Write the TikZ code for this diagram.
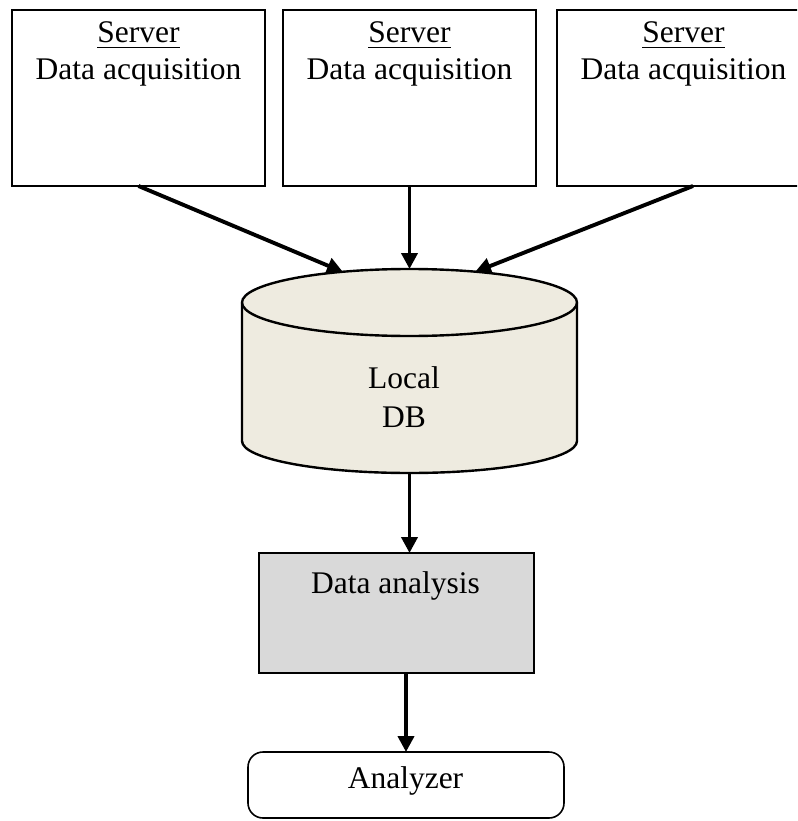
\documentclass[tikz,border=0pt]{standalone}
\usepackage{fontspec}
\setmainfont{Liberation Serif}
\usetikzlibrary{arrows.meta,calc}
\definecolor{dbfill}{RGB}{238,235,224}
\definecolor{anafill}{RGB}{217,217,217}
% underlined word with a rule placed a little below the baseline
\newcommand\ulword[1]{\setbox0=\hbox{#1}\rlap{\rule[-5.5pt]{\wd0}{1.4pt}}\box0}
\begin{document}
\begin{tikzpicture}[x=1pt,y=1pt,
  every node/.style={font=\fontsize{31.5}{37}\selectfont, inner sep=0pt, outer sep=0pt},
  srvbox/.style={draw, line width=1.7pt, minimum width=253pt, minimum height=176pt},
  anabox/.style={draw, fill=anafill, line width=1.7pt, minimum width=275pt, minimum height=120pt},
  anzbox/.style={draw, rounded corners=15pt, line width=1.6pt, minimum width=316pt, minimum height=66pt},
  dbline/.style={line width=2.4pt},
  txt/.style={anchor=base},
  flow/.style={line width=3.9pt, -{Triangle[length=16pt,width=16pt]}},
]
\useasboundingbox (0,0) rectangle (797,-821);
\clip (0,0) rectangle (797,-821);

% acquisition servers
\node[srvbox] (s1) at (138.5,-98) {};
\node[txt] (s1a) at (138.5,-43) {\ulword{Server}};
\node[txt] (s1b) at (138.5,-80) {Data acquisition};

\node[srvbox] (s2) at (409.5,-98) {};
\node[txt] (s2a) at (409.5,-43) {\ulword{Server}};
\node[txt] (s2b) at (409.5,-80) {Data acquisition};

\node[srvbox] (s3) at (683.5,-98) {};
\node[txt] (s3a) at (683.5,-43) {\ulword{Server}};
\node[txt] (s3b) at (683.5,-80) {Data acquisition};

% local database cylinder
\path[fill=dbfill] (242,-302.5) -- (242,-441)
  arc[start angle=180,end angle=360,x radius=167.5,y radius=32]
  -- (577,-302.5)
  arc[start angle=0,end angle=180,x radius=167.5,y radius=33.5] -- cycle;
\draw[dbline] (409.5,-302.5) ellipse[x radius=167.5,y radius=33.5];
\draw[dbline] (242,-302.5) -- (242,-441)
  arc[start angle=180,end angle=360,x radius=167.5,y radius=32]
  -- (577,-302.5);
\node[txt] (dba) at (404,-388) {Local};
\node[txt] (dbb) at (404,-427) {DB};
\coordinate (dbin1) at (343,-272);
\coordinate (dbin2) at (409.5,-269);
\coordinate (dbin3) at (475,-272);
\coordinate (dbout) at (409.5,-473);

% analysis stage
\node[anabox] (ana) at (396.5,-613) {};
\node[txt] (anat) at (395.5,-593) {Data analysis};

\node[anzbox] (anz) at (406,-785) {};
\node[txt] (anzt) at (405.5,-788) {Analyzer};

% connectors
\draw[flow] (s1.south) -- (dbin1);
\draw[flow] (s2.south) -- (dbin2);
\draw[flow] ($(s3.south)+(9.5,0)$) -- (dbin3);
\draw[flow] (dbout) -- (dbout |- ana.north);
\draw[flow] (ana.south -| anz.north) -- (anz.north);
\end{tikzpicture}
\end{document}
